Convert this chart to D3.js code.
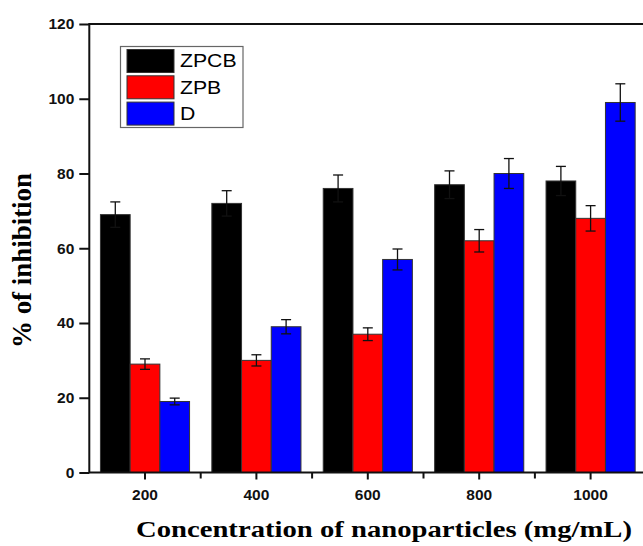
<!DOCTYPE html>
<html>
<head>
<meta charset="utf-8">
<script src="https://cdn.jsdelivr.net/npm/d3@7"></script>
<style>
  html, body { margin: 0; padding: 0; background: #fff; }
  svg { display: block; }
</style>
</head>
<body>
<svg id="chart" width="643" height="546"></svg>
<script>
// Concentration levels (mg/mL)
const categories = ["200", "400", "600", "800", "1000"];
// Series names
const seriesNames = ["ZPCB", "ZPB", "D"];
// % inhibition per series
const zpcbValues = [69, 72, 76, 77, 78];
const zpbValues  = [29, 30, 37, 62, 68];
const dValues    = [19, 39, 57, 80, 99];
// Error (±) per series
const zpcbErrors = [3.4, 3.4, 3.6, 3.7, 3.9];
const zpbErrors  = [1.4, 1.5, 1.7, 3.0, 3.4];
const dErrors    = [0.9, 1.9, 2.8, 4.0, 5.0];
// Y tick labels
const yTicks = [0, 20, 40, 60, 80, 100, 120];

const colors = { ZPCB: "#000000", ZPB: "#ff0000", D: "#0000ff" };
const valuesBySeries = { ZPCB: zpcbValues, ZPB: zpbValues, D: dValues };
const errorsBySeries = { ZPCB: zpcbErrors, ZPB: zpbErrors, D: dErrors };

const svg = d3.select("#chart");

const plotLeft = 89.3, plotTop = 24, plotBottom = 472.5;
const bandW = 111.4;
const plotRight = plotLeft + bandW * categories.length;

const x = d3.scaleBand().domain(categories).range([plotLeft, plotRight]).paddingInner(0).paddingOuter(0);
const xInner = d3.scaleBand().domain(seriesNames)
  .range([x.bandwidth() * 0.1, x.bandwidth() * 0.9]).padding(0);
const y = d3.scaleLinear().domain([0, 120]).range([plotBottom, plotTop]);

// flatten rows
const rows = [];
categories.forEach((c, i) => {
  seriesNames.forEach(s => {
    rows.push({ cat: c, series: s, value: valuesBySeries[s][i], err: errorsBySeries[s][i] });
  });
});

// bars
svg.append("g").selectAll("rect").data(rows).join("rect")
  .attr("x", d => x(d.cat) + xInner(d.series))
  .attr("y", d => y(d.value))
  .attr("width", xInner.bandwidth())
  .attr("height", d => y(0) - y(d.value))
  .attr("fill", d => colors[d.series])
  .attr("stroke", "#333")
  .attr("stroke-width", 1);

// error bars
const eg = svg.append("g").attr("stroke", "#111").attr("stroke-width", 1.3);
rows.forEach(d => {
  const cx = x(d.cat) + xInner(d.series) + xInner.bandwidth() / 2;
  const y1 = y(d.value + d.err), y2 = y(d.value - d.err);
  eg.append("line").attr("x1", cx).attr("x2", cx).attr("y1", y1).attr("y2", y2);
  eg.append("line").attr("x1", cx - 5).attr("x2", cx + 5).attr("y1", y1).attr("y2", y1);
  eg.append("line").attr("x1", cx - 5).attr("x2", cx + 5).attr("y1", y2).attr("y2", y2);
});

// frame
svg.append("rect")
  .attr("x", plotLeft).attr("y", plotTop)
  .attr("width", plotRight - plotLeft).attr("height", plotBottom - plotTop)
  .attr("fill", "none").attr("stroke", "#111").attr("stroke-width", 2);

// y axis
const yAxis = d3.axisLeft(y).tickValues(yTicks).tickSize(10).tickPadding(5).tickFormat(d3.format("d"));
const yg = svg.append("g").attr("transform", `translate(${plotLeft},0)`).call(yAxis);
yg.select(".domain").remove();
yg.selectAll(".tick line").attr("stroke", "#111").attr("stroke-width", 2);
yg.selectAll(".tick text")
  .attr("font-family", "Arial, 'Liberation Sans', sans-serif")
  .attr("font-weight", "bold").attr("font-size", 15.5).attr("fill", "#111");

// x axis (major ticks at centers)
const xAxis = d3.axisBottom(x).tickSize(7).tickPadding(9);
const xg = svg.append("g").attr("transform", `translate(0,${plotBottom})`).call(xAxis);
xg.select(".domain").remove();
xg.selectAll(".tick line").attr("stroke", "#111").attr("stroke-width", 2);
xg.selectAll(".tick text")
  .attr("font-family", "Arial, 'Liberation Sans', sans-serif")
  .attr("font-weight", "bold").attr("font-size", 15.5).attr("fill", "#111");

// minor x ticks at band edges
svg.append("g").selectAll("line").data(categories.slice(1)).join("line")
  .attr("x1", d => x(d)).attr("x2", d => x(d))
  .attr("y1", plotBottom).attr("y2", plotBottom + 6)
  .attr("stroke", "#111").attr("stroke-width", 2);

// axis titles
svg.append("text")
  .attr("x", 136).attr("y", 537)
  .attr("font-family", "'Times New Roman', 'Liberation Serif', serif")
  .attr("font-weight", "bold").attr("font-size", 23)
  .attr("textLength", 496).attr("lengthAdjust", "spacingAndGlyphs")
  .attr("fill", "#000")
  .text("Concentration of nanoparticles (mg/mL)");

svg.append("text")
  .attr("transform", "translate(31,348) rotate(-90)")
  .attr("font-family", "'Times New Roman', 'Liberation Serif', serif")
  .attr("font-weight", "bold").attr("font-size", 27)
  .attr("textLength", 175).attr("lengthAdjust", "spacingAndGlyphs")
  .attr("fill", "#000")
  .text("% of inhibition");

// legend
const lg = svg.append("g");
lg.append("rect").attr("x", 120.5).attr("y", 46.5).attr("width", 122.5).attr("height", 81)
  .attr("fill", "#fff").attr("stroke", "#666").attr("stroke-width", 1.2);
seriesNames.forEach((s, i) => {
  const yy = 49.5 + i * 26.3;
  lg.append("rect").attr("x", 127).attr("y", yy).attr("width", 47).attr("height", 23)
    .attr("fill", colors[s]).attr("stroke", "#333").attr("stroke-width", 1);
  lg.append("text").attr("x", 180).attr("y", yy + 18)
    .attr("font-family", "Arial, 'Liberation Sans', sans-serif")
    .attr("font-size", 18).attr("fill", "#000")
    .attr("transform", `translate(${180},0) scale(1.18,1) translate(${-180},0)`)
    .text(s);
});
</script>
</body>
</html>
